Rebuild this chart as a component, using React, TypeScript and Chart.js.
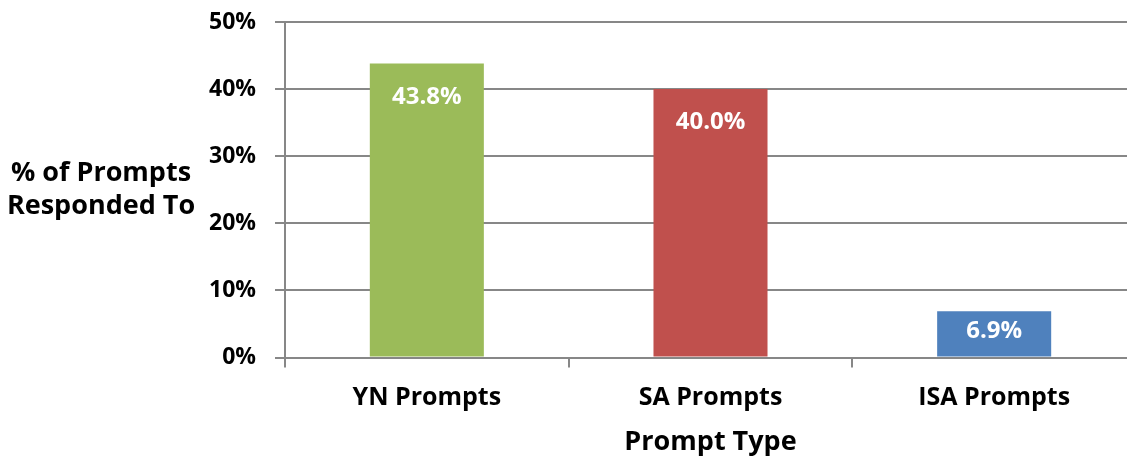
import React, { useEffect, useRef } from "react";
import { Chart, registerables } from "chart.js";

Chart.register(...registerables);

const categories: string[] = ["YN Prompts", "SA Prompts", "ISA Prompts"];
const responseRates: number[] = [43.8, 40.0, 6.9];
const barColors: string[] = ["#9BBB59", "#C0504D", "#4F81BD"];
const yTitleLines: string[] = ["% of Prompts", "Responded To"];
const xTitle = "Prompt Type";

const FONT = "'Open Sans', 'DejaVu Sans', sans-serif";
const AXIS_GRAY = "#878787";

// White value labels placed just inside the top of each bar
const barValueLabels = {
  id: "barValueLabels",
  afterDatasetsDraw(chart: any) {
    const { ctx } = chart;
    const meta = chart.getDatasetMeta(0);
    ctx.save();
    ctx.fillStyle = "#ffffff";
    ctx.font = `bold 24px ${FONT}`;
    ctx.textAlign = "center";
    ctx.textBaseline = "alphabetic";
    meta.data.forEach((bar: any, i: number) => {
      const top = bar.y;
      const base = bar.base;
      const h = base - top;
      const cy = h >= 72 ? top + 36 : (top + base) / 2;
      ctx.fillText(responseRates[i].toFixed(1) + "%", bar.x, cy + 4);
    });
    ctx.restore();
  },
};

// Horizontal two-line title to the left of the value axis
const sideTitle = {
  id: "sideTitle",
  afterDraw(chart: any) {
    const { ctx, chartArea } = chart;
    const mid = (chartArea.top + chartArea.bottom) / 2;
    ctx.save();
    ctx.fillStyle = "#000000";
    ctx.font = `bold 27px ${FONT}`;
    ctx.textAlign = "center";
    ctx.textBaseline = "alphabetic";
    const x = chartArea.left - 184;
    ctx.fillText(yTitleLines[0], x, mid + 8 - 16.7);
    ctx.fillText(yTitleLines[1], x, mid + 8 + 16.7);
    ctx.restore();
  },
};

export default function App() {
  const canvasRef = useRef<HTMLCanvasElement | null>(null);

  useEffect(() => {
    if (!canvasRef.current) return;
    const chart = new Chart(canvasRef.current, {
      type: "bar",
      data: {
        labels: categories,
        datasets: [
          {
            data: responseRates,
            backgroundColor: barColors,
            borderWidth: 0,
            categoryPercentage: 1,
            barPercentage: 0.402,
          },
        ],
      },
      options: {
        responsive: false,
        animation: false,
        devicePixelRatio: 1,
        layout: { padding: { top: 22, right: 4, bottom: 0, left: 0 } },
        plugins: {
          legend: { display: false },
          tooltip: { enabled: false },
        },
        scales: {
          x: {
            offset: true,
            grid: {
              offset: true,
              drawOnChartArea: false,
              drawTicks: true,
              tickLength: 10,
              color: AXIS_GRAY,
              lineWidth: 2,
            },
            border: { display: true, color: AXIS_GRAY, width: 2 },
            ticks: {
              color: "#000000",
              padding: 15,
              maxRotation: 0,
              font: { family: FONT, size: 25, weight: "bold" },
            },
            title: {
              display: true,
              text: xTitle,
              color: "#000000",
              padding: { top: 0, bottom: 0 },
              font: { family: FONT, size: 27, weight: "bold", lineHeight: 1.0 },
            },
            afterFit(scale: any) {
              scale.height = 98.5;
              scale.paddingLeft = 0;
              scale.paddingRight = 0;
            },
          },
          y: {
            min: 0,
            max: 50,
            grid: {
              color: AXIS_GRAY,
              lineWidth: 2,
              drawTicks: true,
              tickLength: 10,
            },
            border: { display: true, color: AXIS_GRAY, width: 2 },
            ticks: {
              stepSize: 10,
              color: "#000000",
              padding: 19,
              font: { family: FONT, size: 23, weight: "bold" },
              callback: (v: any) => `${v}%`,
            },
            afterFit(scale: any) {
              scale.width = 285;
              scale.paddingTop = 0;
              scale.paddingBottom = 0;
            },
          },
        },
      },
      plugins: [barValueLabels, sideTitle],
    });
    return () => chart.destroy();
  }, []);

  return (
    <div
      style={{
        position: "absolute",
        left: 0,
        top: 0,
        width: 1127,
        height: 456,
        overflow: "hidden",
        background: "#ffffff",
      }}
    >
      <canvas ref={canvasRef} width={1140} height={456} />
    </div>
  );
}
